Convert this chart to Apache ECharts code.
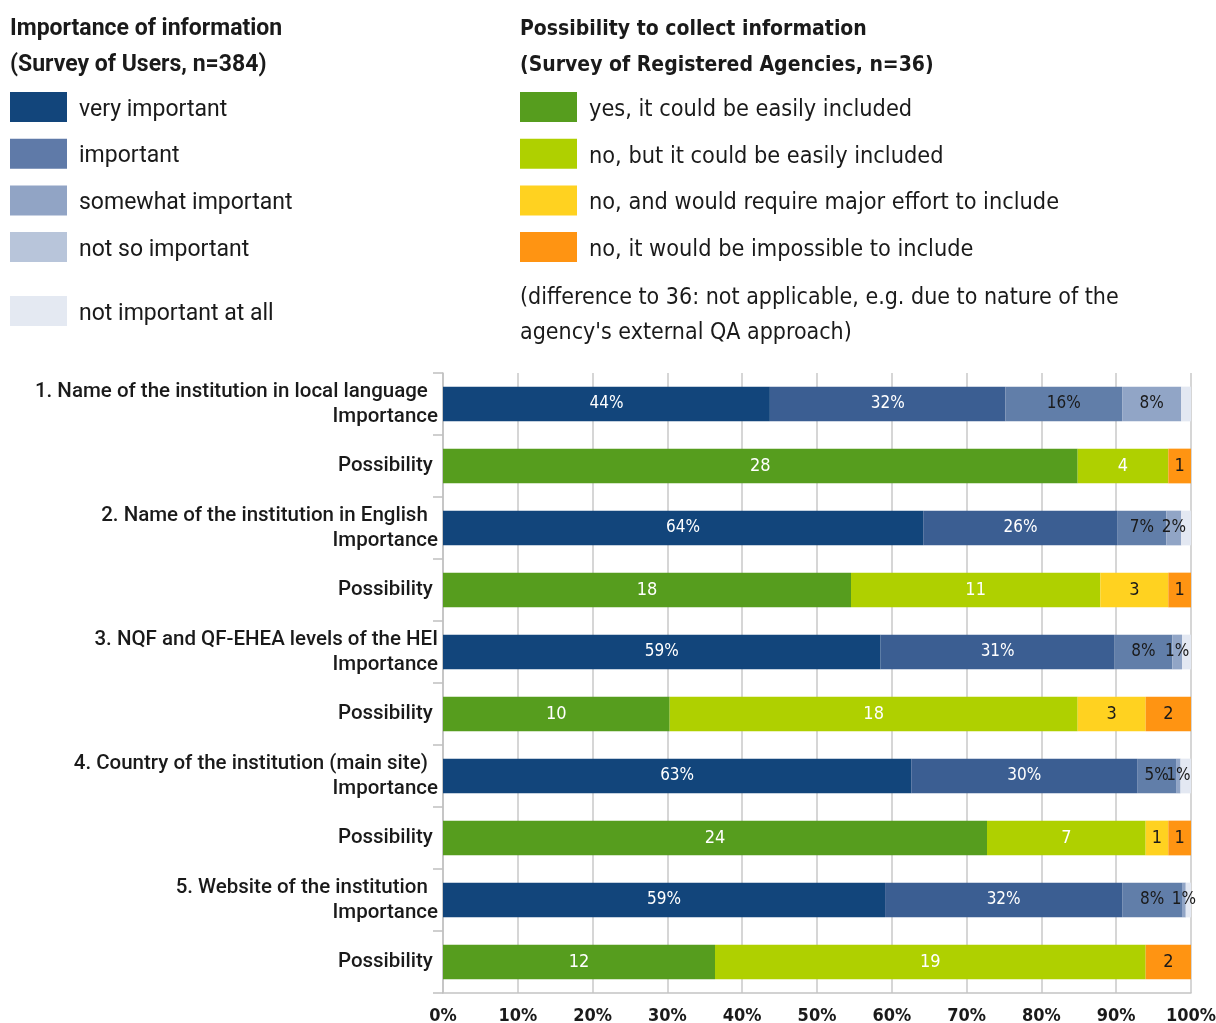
<!DOCTYPE html>
<html>
<head>
<meta charset="utf-8">
<script src="https://cdn.jsdelivr.net/npm/echarts@6/dist/echarts.min.js"></script>
<style>
  html, body { margin: 0; padding: 0; background: #fff; }
  #chart-container { width: 1216px; height: 1023px; }
</style>
</head>
<body>
<div id="chart-container"></div>
<script>
var myChart = echarts.init(document.getElementById('chart-container'));

// --- Data ---
const items = [
    '1. Name of the institution in local language  ',
    '2. Name of the institution in English  ',
    '3. NQF and QF-EHEA levels of the HEI',
    '4. Country of the institution (main site)  ',
    '5. Website of the institution  '
];

// importance (survey of users, % of answers)
const veryImportant = [43.7, 64.2, 58.5, 62.6, 59.1];
const important = [31.5, 26.0, 31.3, 30.2, 31.7];
const somewhatImportant = [15.6, 6.5, 7.7, 5.2, 8.0];
const notSoImportant = [7.9, 2.0, 1.3, 0.6, 0.5];
const notImportantAtAll = [1.3, 1.3, 1.2, 1.4, 0.7];

// possibility (survey of agencies, number of agencies)
const yesEasily = [28, 18, 10, 24, 12];
const noButEasily = [4, 11, 18, 7, 19];
const noMajorEffort = [0, 3, 3, 1, 0];
const noImpossible = [1, 1, 2, 1, 2];

const xTicks = [0, 10, 20, 30, 40, 50, 60, 70, 80, 90, 100];

const impNames = ['very important', 'important', 'somewhat important', 'not so important', 'not important at all'];
const posNames = ['yes, it could be easily included', 'no, but it could be easily included',
    'no, and would require major effort to include', 'no, it would be impossible to include'];

const impColors = ['#12457b', '#3b5e92', '#617ea9', '#91a5c6', '#e3e8f2'];
const impLegendColors = ['#12457b', '#5f7aa8', '#91a4c5', '#b8c5da', '#e4e9f2'];
const posColors = ['#569d1e', '#afd000', '#ffd220', '#ff9412'];

const NARROW = '"DejaVu Sans Condensed", Roboto, sans-serif';
const REG = 'Roboto, "Noto Sans", sans-serif';

// --- build rows: Importance / Possibility per item ---
const categories = [];
items.forEach(function (it) {
    categories.push(it + '\nImportance');
    categories.push('Possibility ');
});

function impRows(arr) {
    const out = [];
    arr.forEach(function (v) { out.push(v); out.push('-'); });
    return out;
}
const posTotals = items.map(function (_, i) {
    return yesEasily[i] + noButEasily[i] + noMajorEffort[i] + noImpossible[i];
});
function posRows(arr) {
    const out = [];
    arr.forEach(function (n, i) {
        out.push('-');
        out.push(n > 0 ? { value: n / posTotals[i] * 100, count: n } : '-');
    });
    return out;
}

const impSeries = [veryImportant, important, somewhatImportant, notSoImportant, notImportantAtAll];
const posSeries = [yesEasily, noButEasily, noMajorEffort, noImpossible];
const impLabelColor = ['#fff', '#fff', '#1a1a1a', '#1a1a1a', '#1a1a1a'];
const posLabelColor = ['#fff', '#fff', '#1a1a1a', '#1a1a1a'];

const series = [];
impSeries.forEach(function (arr, k) {
    series.push({
        name: impNames[k], type: 'bar', stack: 'total', barWidth: '56%',
        data: impRows(arr),
        itemStyle: { color: impColors[k] },
        label: {
            show: k < 4, position: 'inside', color: impLabelColor[k],
            fontFamily: NARROW, fontSize: 17,
            formatter: function (p) { return Math.round(p.value) + '%'; }
        }
    });
});
posSeries.forEach(function (arr, k) {
    series.push({
        name: posNames[k], type: 'bar', stack: 'total', barWidth: '56%',
        data: posRows(arr),
        itemStyle: { color: posColors[k] },
        label: {
            show: true, position: 'inside', color: posLabelColor[k],
            fontFamily: NARROW, fontSize: 18,
            formatter: function (p) { return p.data.count; }
        }
    });
});

// legend text drawn as a rich token so it can sit a little lower beside the box
function legendText(font, size) {
    return {
        rich: { t: { fontSize: size, lineHeight: 24, color: '#1a1a1a', fontFamily: font, padding: [6, 0, 0, 7] } }
    };
}

const option = {
    animation: false,
    textStyle: { fontFamily: REG },
    graphic: [
        { type: 'text', left: 10, top: 18, style: { text: 'Importance of information', font: 'bold 23px ' + REG, fill: '#1a1a1a' } },
        { type: 'text', left: 10, top: 54, style: { text: '(Survey of Users, n=384)', font: 'bold 23px ' + REG, fill: '#1a1a1a' } },
        { type: 'text', left: 520, top: 19, style: { text: 'Possibility to collect information', font: 'bold 21px ' + NARROW, fill: '#1a1a1a' } },
        { type: 'text', left: 520, top: 55, style: { text: '(Survey of Registered Agencies, n=36)', font: 'bold 21px ' + NARROW, fill: '#1a1a1a' } },
        { type: 'text', left: 520, top: 287, style: { text: '(difference to 36: not applicable, e.g. due to nature of the', font: '23px ' + NARROW, fill: '#1a1a1a' } },
        { type: 'text', left: 520, top: 322, style: { text: "agency's external QA approach)", font: '23px ' + NARROW, fill: '#1a1a1a' } }
    ],
    legend: [
        {
            left: 10, top: 92, padding: 0, orient: 'vertical', itemWidth: 57, itemHeight: 30, itemGap: 16.7,
            selectedMode: false, icon: 'rect', formatter: '{t|{name}}',
            data: impNames.slice(0, 4).map(function (n, i) { return { name: n, itemStyle: { color: impLegendColors[i] } }; }),
            textStyle: legendText(REG, 23)
        },
        {
            left: 10, top: 296, padding: 0, orient: 'vertical', itemWidth: 57, itemHeight: 30,
            selectedMode: false, icon: 'rect', formatter: '{t|{name}}',
            data: [{ name: impNames[4], itemStyle: { color: impLegendColors[4] } }],
            textStyle: legendText(REG, 23)
        },
        {
            left: 520, top: 92, padding: 0, orient: 'vertical', itemWidth: 57, itemHeight: 30, itemGap: 16.7,
            selectedMode: false, icon: 'rect', formatter: '{t|{name}}',
            data: posNames.map(function (n, i) { return { name: n, itemStyle: { color: posColors[i] } }; }),
            textStyle: legendText(NARROW, 23.3)
        }
    ],
    grid: { left: 443, right: 25, top: 373, bottom: 30, containLabel: false, outerBoundsMode: 'none' },
    xAxis: {
        type: 'value', min: xTicks[0], max: xTicks[xTicks.length - 1], interval: 10,
        axisLine: { show: true, lineStyle: { color: '#c4c4c4', width: 1.5 } },
        axisTick: { show: false },
        splitLine: { show: true, lineStyle: { color: '#c8c8c8', width: 1.5 } },
        axisLabel: {
            formatter: '{value}%', fontFamily: NARROW, fontWeight: 'bold', fontSize: 18,
            color: '#1a1a1a', margin: 14
        }
    },
    yAxis: {
        type: 'category', inverse: true, data: categories,
        axisLine: { show: true, lineStyle: { color: '#c0c0c0', width: 1.5 } },
        axisTick: { show: true, length: 10, lineStyle: { color: '#c0c0c0', width: 1.5 } },
        axisLabel: {
            fontFamily: REG, fontWeight: 500, fontSize: 20.5, lineHeight: 25,
            color: '#1a1a1a', margin: 5, align: 'right', padding: [6, 0, 0, 0]
        }
    },
    series: series
};

myChart.setOption(option);

window.addEventListener('resize', function () {
    myChart.resize();
});
</script>
</body>
</html>
